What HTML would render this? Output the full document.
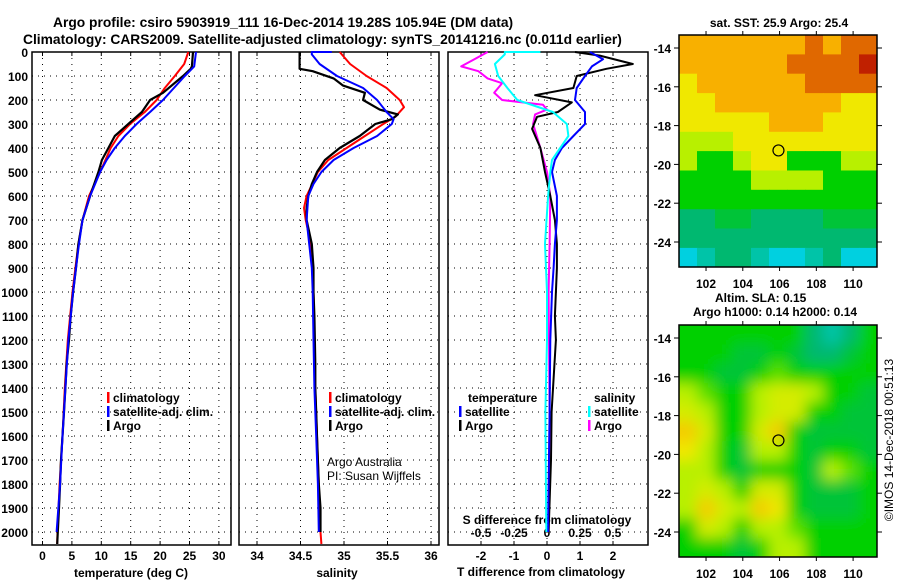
<!DOCTYPE html>
<html><head><meta charset="utf-8"><style>
html,body{margin:0;padding:0;background:#fff}
svg{display:block;font-family:"Liberation Sans",Arial,sans-serif}
.t{font-weight:bold;font-size:12px}
</style></head><body>
<svg id="c" width="900" height="580" viewBox="0 0 900 580" xmlns="http://www.w3.org/2000/svg">
<defs>
<filter id="blur" x="0" y="0" width="100%" height="100%"><feGaussianBlur stdDeviation="7"/></filter>
<clipPath id="clip1"><rect x="679" y="35" width="198" height="232"/></clipPath>
<clipPath id="clip2"><rect x="679" y="325" width="198" height="232"/></clipPath>
</defs>
<text x="53" y="27" font-size="13.8" font-weight="bold">Argo profile: csiro 5903919_111 16-Dec-2014 19.28S 105.94E (DM data)</text>
<text x="23" y="44" font-size="13.8" font-weight="bold">Climatology: CARS2009. Satellite-adjusted climatology: synTS_20141216.nc (0.011d earlier)</text>
<text transform="translate(893,440) rotate(-90)" text-anchor="middle" font-size="12">©IMOS 14-Dec-2018 00:51:13</text>
</svg>
<script>
// ---------- data ----------
const depthTicks=[0,100,200,300,400,500,600,700,800,900,1000,1100,1200,1300,1400,1500,1600,1700,1800,1900,2000];
const tempTicks=[0,5,10,15,20,25,30];
const salTicks=[34,34.5,35,35.5,36];
const tdiffTicks=[-2,-1,0,1,2];
const sdiffTicks=[-0.5,-0.25,0,0.25,0.5];
const sdiffTickLabels=["-0.5","-0.25","0","0.25","0.5"];
const tempArgo=[[0,25.6],[60,25.4],[70,25.2],[100,23.9],[170,20.5],[200,18.3],[250,16.9],[300,14.6],[350,12.3],[400,11.2],[450,10.1],[500,9.5],[600,8.1],[700,6.8],[800,6.1],[900,5.7],[1000,5.2],[1100,4.8],[1200,4.5],[1300,4.1],[1400,3.9],[1500,3.65],[1600,3.4],[1700,3.15],[1800,3.0],[1900,2.8],[2000,2.6],[2050,2.5]];
const tempClim=[[0,24.8],[50,24.1],[100,22.5],[150,20.8],[200,19.4],[250,17.4],[300,14.9],[350,12.9],[400,11.6],[500,9.8],[600,7.9],[700,6.8],[800,6.1],[900,5.6],[1000,5.1],[1200,4.3],[1400,3.8],[1600,3.4],[1800,2.9],[2000,2.55],[2050,2.5]];
const tempSat=[[0,26.1],[60,25.8],[100,24.2],[200,20.5],[250,18.3],[300,16.0],[350,14.0],[400,12.3],[450,10.9],[500,9.8],[600,8.1],[700,6.8],[800,6.2],[900,5.7],[1000,5.2],[1200,4.4],[1400,3.9],[1600,3.4],[1800,3.0],[2000,2.4]];
const salArgo=[[0,34.49],[70,34.49],[80,34.64],[110,34.88],[140,34.99],[170,35.24],[200,35.22],[240,35.41],[260,35.62],[280,35.55],[300,35.36],[350,35.18],[400,34.95],[450,34.78],[500,34.69],[550,34.63],[600,34.59],[650,34.57],[700,34.57],[800,34.63],[900,34.65],[1000,34.65],[1100,34.66],[1300,34.67],[1400,34.67],[1500,34.68],[1600,34.69],[1700,34.70],[1800,34.71],[1900,34.73],[2000,34.73]];
const salClim=[[0,34.95],[50,35.07],[100,35.26],[150,35.49],[200,35.64],[230,35.69],[270,35.59],[300,35.45],[350,35.24],[400,35.03],[450,34.82],[500,34.70],[600,34.57],[650,34.54],[700,34.56],[800,34.62],[900,34.64],[1000,34.65],[1200,34.66],[1400,34.67],[1600,34.69],[1800,34.71],[2000,34.73],[2050,34.74]];
const salSat=[[0,34.86],[0,34.63],[10,34.63],[50,34.72],[100,34.92],[150,35.22],[200,35.38],[250,35.49],[280,35.57],[300,35.55],[350,35.38],[400,35.11],[450,34.88],[500,34.74],[550,34.65],[600,34.59],[700,34.57],[800,34.60],[900,34.63],[1000,34.64],[1200,34.65],[1400,34.66],[1600,34.68],[1800,34.70],[2000,34.71]];
const dTArgo=[[0,0.85],[15,1.6],[50,2.6],[70,1.8],[100,0.9],[150,0.8],[180,-0.36],[210,0.75],[250,0.33],[270,-0.3],[320,-0.45],[400,-0.2],[500,-0.06],[600,0.1],[700,0.24],[800,0.3],[900,0.3],[1100,0.24],[1200,0.27],[1500,0.14],[1700,0.12],[2000,0.05]];
const dTSat=[[0,1.3],[30,1.7],[60,1.36],[100,1.15],[150,0.9],[200,0.85],[250,1.15],[300,1.15],[350,0.8],[400,0.45],[450,0.24],[500,0.15],[600,0.3],[700,0.3],[800,0.24],[900,0.2],[1000,0.15],[1200,0.1],[1500,0.08],[2000,0.03]];
const dSArgo=[[0,-0.45],[30,-0.55],[60,-0.65],[80,-0.52],[110,-0.45],[130,-0.34],[170,-0.4],[200,-0.34],[220,-0.03],[240,0],[260,-0.09],[300,-0.105],[400,-0.05],[500,0],[600,0.025],[800,0.02],[1000,0.012],[1500,0.02],[2000,0.012]];
const dSSat=[[0,-0.05],[0,-0.32],[10,-0.32],[50,-0.395],[100,-0.37],[150,-0.3],[200,-0.225],[250,0.045],[300,0.15],[350,0.162],[400,0.1],[450,0.038],[500,0.025],[600,0.008],[800,-0.015],[1000,0],[1200,0],[1500,-0.012],[2000,-0.005]];
const mapLons=[102,104,106,108,110];
const mapLats=[-14,-16,-18,-20,-22,-24];
const argoLon=105.94, argoLat=-19.28;
const sstGrid=[
[5,5,5,5,5,5,5,6,5,6,6],
[5,5,5,5,5,5,6,6,6,6,7],
[4,5,5,5,5,5,5,6,6,6,6],
[4,4,5,5,5,5,5,5,5,4,4],
[4,4,4,4,4,5,5,5,4,4,4],
[3,3,3,4,4,4,4,4,4,4,4],
[3,2,2,3,4,4,2,2,2,3,3],
[2,2,2,2,3,3,3,3,2,2,2],
[2,2,2,2,2,2,2,2,2,2,2],
[1,1,1.5,1.5,1,1,1,1,1.5,1.5,1.5],
[1,1,1,1,1,1,1,1,1,1,1],
[0,0.5,1,1,0.5,0,0,0.5,1,0,0]];
const slaGrid=[
[2,2,2,2,2,2,2,1,0.5,1,2],
[2,2,2,1.5,1.5,2,1.5,1,1,1.5,2],
[2,2,1.5,1.5,2,2.5,2,2,2,2,2],
[3,2.5,2,2,3,3.5,3.5,3,2,2,1.5],
[3.5,3,2,2,3,3.5,3.5,2,2,1.5,1.5],
[4.5,3.5,2,2,3.5,4.5,2,1.5,1.5,1.5,1.5],
[4,3,2,1.5,3,3,2,1.5,2,2,1.5],
[3,3,2,1.5,2,2,2,1.5,3,2.5,2],
[3,3.5,3,2,3.5,3.5,2,1.5,1.5,1.5,2],
[3,4.5,3.5,3,4.5,4,2,1.5,1.5,1.5,2],
[2,3.5,3,2,3,3,2.5,2,2,2,2],
[2,2,2,1.5,2,3,3,2,2,2,2]];

// ---------- drawing ----------
const NS="http://www.w3.org/2000/svg";
const svg=document.getElementById('c');
function el(tag,attrs,parent){const e=document.createElementNS(NS,tag);for(const k in attrs)e.setAttribute(k,attrs[k]);(parent||svg).appendChild(e);return e;}
const Y0=52, YB=545;
const yD=d=>Y0+d*0.24;
const panels=[
 {x0:32,x1:231,sc:v=>42.5+v*5.88,name:'temperature'},
 {x0:239,x1:439,sc:v=>257+(v-34)*87,name:'salinity'},
 {x0:448,x1:648,sc:v=>547+v*33,name:'difference'}];
const sS=v=>547+v*132;

panels.forEach((p,i)=>{
  const g=el('g',{});
  
  
  depthTicks.forEach(d=>{
    if(d===0)return;
    const l=el('line',{x1:p.x0,x2:p.x1,y1:yD(d),y2:yD(d),stroke:'#000','stroke-width':1,'stroke-dasharray':'1,5'},g);
    
    
  });
  const ticks=i===0?tempTicks:i===1?salTicks:tdiffTicks;
  ticks.forEach(v=>{
    const x=p.sc(v);
    const l=el('line',{x1:x,x2:x,y1:Y0,y2:YB,stroke:'#000','stroke-width':1,'stroke-dasharray':'1,5'},g);
    
    
    el('line',{x1:x,x2:x,y1:Y0,y2:Y0+4,stroke:'#000'},g);
    el('line',{x1:x,x2:x,y1:YB,y2:YB-4,stroke:'#000'},g);
    const t=el('text',{x:x,y:560,'text-anchor':'middle',class:'t'},g);
    t.textContent=v;
    
    
  });
  const fr=el('rect',{x:p.x0,y:Y0,width:p.x1-p.x0,height:YB-Y0,fill:'none',stroke:'#000','stroke-width':1.5},g);
  
  
});
depthTicks.forEach(d=>{
  const t=el('text',{x:28,y:yD(d)+5,'text-anchor':'end',class:'t'});
  t.textContent=d;
  
  
});
sdiffTicks.forEach((v,i)=>{
  const t=el('text',{x:sS(v),y:537,'text-anchor':'middle',class:'t'});
  t.textContent=sdiffTickLabels[i];
  
  
});
function label(x,y,txt,name,extra){const t=el('text',Object.assign({x:x,y:y,class:'t'},extra||{}));t.textContent=txt;return t;}
label(131,577,'temperature (deg C)','x-axis-title-temperature',{'text-anchor':'middle','font-size':'13'});
label(337,577,'salinity','x-axis-title-salinity',{'text-anchor':'middle','font-size':'13'});
label(541,576,'T difference from climatology','x-axis-title-t-diff',{'text-anchor':'middle','font-size':'13'});
label(547,524,'S difference from climatology','x-axis-title-s-diff',{'text-anchor':'middle','font-size':'13'});

function line(data,fx,color,name,w){
  const pts=data.map(d=>fx(d[1]).toFixed(1)+','+yD(d[0]).toFixed(1)).join(' ');
  const l=el('polyline',{points:pts,fill:'none',stroke:color,'stroke-width':w||2,'stroke-linejoin':'round'});
  
  
}
const sT=panels[0].sc, sSal=panels[1].sc, sD=panels[2].sc;
line(tempClim,sT,'#f00','temp-climatology-line');
line(tempArgo,sT,'#000','temp-argo-line',2.2);
line(tempSat,sT,'#00f','temp-satellite-line');
line(salClim,sSal,'#f00','sal-climatology-line');
line(salArgo,sSal,'#000','sal-argo-line',2.2);
line(salSat,sSal,'#00f','sal-satellite-line');
line(dSArgo,sS,'#f0f','s-diff-argo-line');
line(dTArgo,sD,'#000','t-diff-argo-line');
line(dTSat,sD,'#00f','t-diff-satellite-line');
line(dSSat,sS,'#0ff','s-diff-satellite-line');

function legend(x,y,color,txt,name){
  const g=el('g',{});
  
  
  el('rect',{x:x,y:y-10,width:2.5,height:11,fill:color},g);
  const t=el('text',{x:x+6,y:y,class:'t'},g);t.textContent=txt;
}
legend(107,402,'#f00','climatology','legend-climatology');
legend(107,416,'#00f','satellite-adj. clim.','legend-satellite-adj');
legend(107,430,'#000','Argo','legend-argo');
legend(329,402,'#f00','climatology','legend-sal-climatology');
legend(329,416,'#00f','satellite-adj. clim.','legend-sal-satellite-adj');
legend(329,430,'#000','Argo','legend-sal-argo');
label(468,402,'temperature','legend-temperature-header');
legend(459,416,'#00f','satellite','legend-t-satellite');
legend(459,430,'#000','Argo','legend-t-argo');
label(594,402,'salinity','legend-salinity-header');
legend(588,416,'#0ff','satellite','legend-s-satellite');
legend(588,430,'#f0f','Argo','legend-s-argo');
label(327,466,'Argo Australia','credit-argo-australia',{class:'',fill:'#000','font-size':'12'});
label(327,480,'PI: Susan Wijffels','credit-pi',{class:'',fill:'#000','font-size':'12'});

// ---------- maps ----------
const cmap=['#00d0e0','#00b870','#00d000','#b8f000','#f0e800','#f8b000','#e06800','#c02000'];
function colorOf(v){const i=Math.max(0,Math.min(cmap.length-1,Math.round(v*2)/2));
  const lo=Math.floor(i),hi=Math.ceil(i),f=i-lo;
  const a=cmap[lo],b=cmap[hi];
  const p=(c,k)=>parseInt(c.substr(1+2*k,2),16);
  const r=[0,1,2].map(k=>Math.round(p(a,k)*(1-f)+p(b,k)*f));
  return 'rgb('+r.join(',')+')';}
const MX0=679,MX1=877,LON0=100.53,LON1=111.3;
const lonX=l=>MX0+(l-LON0)*(MX1-MX0)/(LON1-LON0);
function drawMap(top,grid,clipId,blur,name){
  const yL=l=>top+13+(-14-l)*19.4;
  const g=el('g',{'clip-path':'url(#'+clipId+')'});
  
  
  const inner=el('g',blur?{filter:'url(#blur)'}:{},g);
  const rows=grid.length, cols=grid[0].length;
  const latTop=-13.33, latBot=-25.3;
  const pad=blur?1:0;
  for(let r=-pad;r<rows+pad;r++)for(let c=-pad;c<cols+pad;c++){
    const rr=Math.max(0,Math.min(rows-1,r)),cc=Math.max(0,Math.min(cols-1,c));
    const la0=latTop+(latBot-latTop)*r/rows, la1=latTop+(latBot-latTop)*(r+1)/rows;
    const lo0=LON0+(LON1-LON0)*c/cols, lo1=LON0+(LON1-LON0)*(c+1)/cols;
    const x=lonX(lo0),y=yL(la0);
    const cell=el('rect',{x:x.toFixed(1),y:y.toFixed(1),width:(lonX(lo1)-x+0.5).toFixed(1),height:(yL(la1)-y+0.5).toFixed(1),fill:colorOf(grid[rr][cc])},inner);
    
    
  }
  const fr=el('rect',{x:MX0,y:top,width:MX1-MX0,height:232,fill:'none',stroke:'#000','stroke-width':1.5});
  
  
  mapLats.forEach(l=>{const y=yL(l);
    el('line',{x1:MX0-5,x2:MX0,y1:y,y2:y,stroke:'#000'});
    el('line',{x1:MX1,x2:MX1+5,y1:y,y2:y,stroke:'#000'});
    const t=el('text',{x:MX0-8,y:y+5,'text-anchor':'end',class:'t'});t.textContent=l;
    
    });
  mapLons.forEach(l=>{const x=lonX(l);
    el('line',{x1:x,x2:x,y1:top-4,y2:top,stroke:'#000'});
    el('line',{x1:x,x2:x,y1:top+232,y2:top+236,stroke:'#000'});
    const t=el('text',{x:x,y:top+253,'text-anchor':'middle',class:'t'});t.textContent=l;
    
    });
  const c=el('circle',{cx:lonX(argoLon),cy:yL(argoLat),r:5.5,fill:'none',stroke:'#000','stroke-width':1.2});
  
  
}
drawMap(35,sstGrid,'clip1',false,'sst-map');
drawMap(325,slaGrid,'clip2',true,'sla-map');
label(779,27,'sat. SST: 25.9 Argo: 25.4','sst-map-title',{'text-anchor':'middle','font-size':'13'});
label(715,302,'Altim. SLA: 0.15','sla-map-title',{'font-size':'13'});
label(775,316,'Argo h1000: 0.14 h2000: 0.14','sla-map-subtitle',{'text-anchor':'middle','font-size':'13'});
</script>
</body></html>
